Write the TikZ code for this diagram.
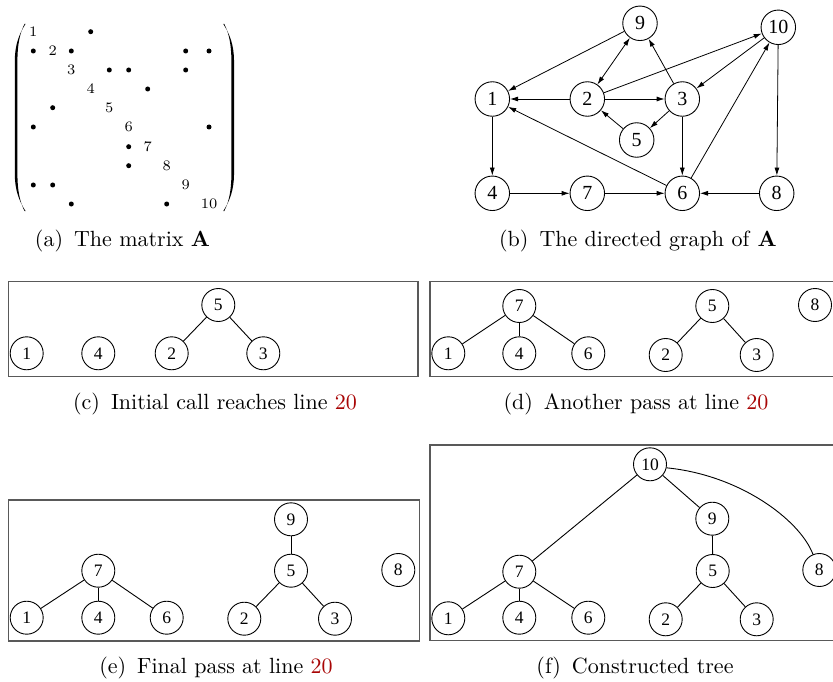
\documentclass[tikz,border=0pt]{standalone}
\usepackage{fontspec}
\newfontfamily\tms{Liberation Serif}
\newfontfamily\capfont{lmroman10-regular}[Extension=.otf,BoldFont=lmroman10-bold]
\newfontfamily\labfont{lmroman7-regular}[Extension=.otf]
\usetikzlibrary{arrows.meta}
\definecolor{linered}{rgb}{0.66,0.02,0.02}
\definecolor{boxgray}{gray}{0.35}
\begin{document}
\begin{tikzpicture}[x=1pt,y=-1pt,
  gnode/.style={circle,draw,line width=0.9pt,minimum size=34.5pt,inner sep=0pt,font=\tms\fontsize{20}{20}\selectfont},
  tnode/.style={circle,draw,line width=0.9pt,minimum size=33pt,inner sep=0pt,font=\tms\fontsize{17.5}{17.5}\selectfont},
  arr/.style={-{Latex[length=8pt,width=5pt]},line width=0.8pt},
  darr/.style={{Latex[length=8pt,width=5pt]}-{Latex[length=8pt,width=5pt]},line width=0.8pt},
  tedge/.style={line width=0.9pt},
  panel/.style={draw=boxgray,line width=1.3pt},
  captext/.style={anchor=base,font=\capfont\fontsize{22}{26}\selectfont,inner sep=0pt},
  mlab/.style={font=\labfont\fontsize{14.5}{16}\selectfont,inner sep=0pt},
  mdot/.style={circle,fill,inner sep=0pt,minimum size=5pt}]
\useasboundingbox (0,0) rectangle (833,682);

% ---------- (a) matrix ----------
\fill (25.5,24) .. controls (19,34) and (15,45) .. (14.8,60) -- (14.8,175)
      .. controls (15,190) and (19,201) .. (25.5,211)
      -- (24.5,211) .. controls (19.5,201) and (17.6,190) .. (17.4,175) -- (17.4,60)
      .. controls (17.6,45) and (19.5,34) .. (24.5,24) -- cycle;
\fill (223.3,24) .. controls (229.8,34) and (233.8,45) .. (234,60) -- (234,175)
      .. controls (233.8,190) and (229.8,201) .. (223.3,211)
      -- (224.3,211) .. controls (229.3,201) and (231.2,190) .. (231.4,175) -- (231.4,60)
      .. controls (231.2,45) and (229.3,34) .. (224.3,24) -- cycle;
\foreach \k in {1,...,10}{
  \pgfmathsetmacro\mx{{33.3,52.7,71.3,90.7,109.3,128.7,147.7,166.7,185.7,209}[\k-1]}
  \pgfmathsetmacro\my{{31.7,51,70,89,107.7,127,146.7,165.7,185,204}[\k-1]}
  \node[mlab] (ml\k) at (\mx,\my) {\k};
}
\foreach \i/\j in {1/4,2/1,2/3,2/9,2/10,3/5,3/6,3/9,4/7,5/2,6/1,6/10,7/6,8/6,9/1,9/2,10/3,10/8}{
  \pgfmathsetmacro\mx{{33.3,52.7,71.3,90.7,109.3,128.7,147.7,166.7,185.7,209}[\j-1]}
  \pgfmathsetmacro\my{{31.7,51,70,89,107.7,127,146.7,165.7,185,204}[\i-1]}
  \node[mdot] (md\i-\j) at (\mx,\my) {};
}
\node[captext] (capa) at (122.5,246.7) {(a)\hspace{0.5em}The matrix \textbf{A}};

% ---------- (b) directed graph ----------
\node[gnode] (g1) at (492.3,99) {1};
\node[gnode] (g2) at (587.3,99) {2};
\node[gnode] (g3) at (682.3,99) {3};
\node[gnode] (g4) at (492.3,193.3) {4};
\node[gnode] (g5) at (636.7,140) {5};
\node[gnode] (g6) at (682.3,193.3) {6};
\node[gnode] (g7) at (587.3,193.3) {7};
\node[gnode] (g8) at (776.7,193.3) {8};
\node[gnode] (g9) at (640,23.3) {9};
\node[gnode] (g10) at (778.3,27.3) {10};
\draw[arr] (g1) -- (g4);
\draw[arr] (g2) -- (g1);
\draw[arr] (g2) -- (g3);
\draw[arr] (g2) -- (g10);
\draw[arr] (g3) -- (g5);
\draw[arr] (g3) -- (g6);
\draw[arr] (g3) -- (g9);
\draw[arr] (g4) -- (g7);
\draw[arr] (g5) -- (g2);
\draw[arr] (g6) -- (g1);
\draw[arr] (g6) -- (g10);
\draw[arr] (g7) -- (g6);
\draw[arr] (g8) -- (g6);
\draw[arr] (g9) -- (g1);
\draw[arr] (g10) -- (g3);
\draw[arr] (g10) -- (g8);
\draw[darr] (g9) -- (g2);
\node[captext] (capb) at (638,246.7) {(b)\hspace{0.5em}The directed graph of \textbf{A}};

% ---------- (c) ----------
\draw[panel] (8.3,281.7) rectangle (418,376.7);
\node[tnode] (c5) at (218.3,305) {5};
\node[tnode] (c1) at (26.7,353.3) {1};
\node[tnode] (c4) at (98.3,353.3) {4};
\node[tnode] (c2) at (171.7,353.3) {2};
\node[tnode] (c3) at (263.3,353.3) {3};
\draw[tedge] (c5) -- (c2);
\draw[tedge] (c5) -- (c3);
\node[captext] (capc) at (215,409) {(c)\hspace{0.5em}Initial call reaches line \textcolor{linered}{20}};

% ---------- (d) ----------
\draw[panel] (430,281.7) rectangle (845,376.7);
\node[tnode] (d7) at (519.3,306) {7};
\node[tnode] (d1) at (448.3,353.3) {1};
\node[tnode] (d4) at (519.3,353.3) {4};
\node[tnode] (d6) at (588.3,353.3) {6};
\node[tnode] (d5) at (712.3,306) {5};
\node[tnode] (d2) at (665.7,355) {2};
\node[tnode] (d3) at (756.7,355) {3};
\node[tnode] (d8) at (815,305) {8};
\draw[tedge] (d7) -- (d1);
\draw[tedge] (d7) -- (d4);
\draw[tedge] (d7) -- (d6);
\draw[tedge] (d5) -- (d2);
\draw[tedge] (d5) -- (d3);
\node[captext] (capd) at (636,409) {(d)\hspace{0.5em}Another pass at line \textcolor{linered}{20}};

% ---------- (e) ----------
\draw[panel] (8.3,500) rectangle (419.3,641);
\node[tnode] (e9) at (291,519.3) {9};
\node[tnode] (e7) at (98.3,570.7) {7};
\node[tnode] (e5) at (291,570.7) {5};
\node[tnode] (e8) at (398.3,570) {8};
\node[tnode] (e1) at (26.7,617.7) {1};
\node[tnode] (e4) at (98.3,617.7) {4};
\node[tnode] (e6) at (166.7,617.7) {6};
\node[tnode] (e2) at (244.3,618.7) {2};
\node[tnode] (e3) at (335,618.7) {3};
\draw[tedge] (e7) -- (e1);
\draw[tedge] (e7) -- (e4);
\draw[tedge] (e7) -- (e6);
\draw[tedge] (e9) -- (e5);
\draw[tedge] (e5) -- (e2);
\draw[tedge] (e5) -- (e3);
\node[captext] (cape) at (216,673) {(e)\hspace{0.5em}Final pass at line \textcolor{linered}{20}};

% ---------- (f) ----------
\draw[panel] (430,445) rectangle (845,640.7);
\node[tnode] (f10) at (650,464.3) {10};
\node[tnode] (f9) at (712.3,518.7) {9};
\node[tnode] (f7) at (519.3,571.7) {7};
\node[tnode] (f5) at (712.7,571) {5};
\node[tnode] (f8) at (819.3,570) {8};
\node[tnode] (f1) at (448.3,618.3) {1};
\node[tnode] (f4) at (519.3,617.7) {4};
\node[tnode] (f6) at (588.3,617.7) {6};
\node[tnode] (f2) at (665.7,619.3) {2};
\node[tnode] (f3) at (756.7,619.3) {3};
\draw[tedge] (f10) -- (f7);
\draw[tedge] (f10) -- (f9);
\draw[tedge] (f10.-12) .. controls (740,475) and (800,520) .. (f8.112);
\draw[tedge] (f9) -- (f5);
\draw[tedge] (f5) -- (f2);
\draw[tedge] (f5) -- (f3);
\draw[tedge] (f7) -- (f1);
\draw[tedge] (f7) -- (f4);
\draw[tedge] (f7) -- (f6);
\node[captext] (capf) at (635,673) {(f)\hspace{0.5em}Constructed tree};
\end{tikzpicture}
\end{document}
